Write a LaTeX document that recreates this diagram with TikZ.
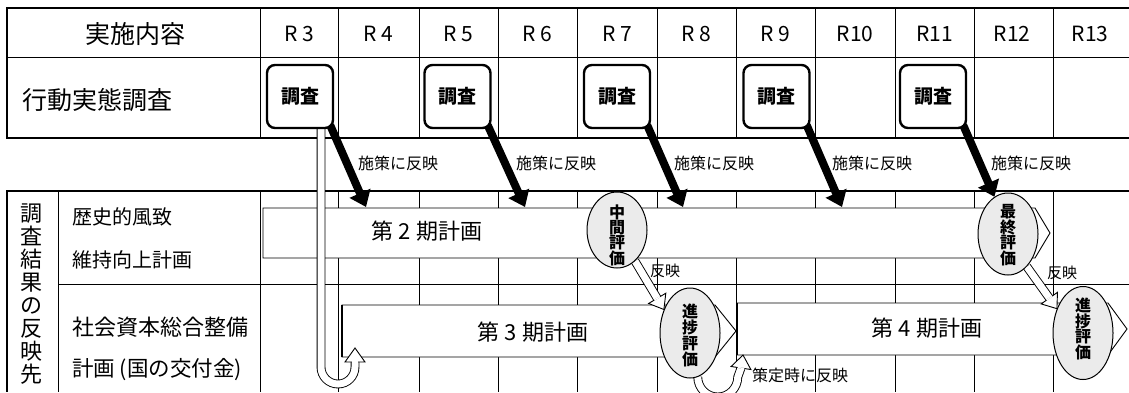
\documentclass[tikz,border=0pt]{standalone}
\usepackage{fontspec}
\setmainfont{Noto Sans CJK JP}
\usetikzlibrary{shapes.geometric,arrows.meta,calc}
\pgfdeclarelayer{bg}
\pgfsetlayers{bg,main}
\newcommand\fsz[1]{\fontsize{#1}{#1}\selectfont}
\newcommand\hollowhead[2]{%
  \draw[line width=0.9pt, fill=white] ($(#1)!10pt!90:(#2)$) -- (#2) -- ($(#1)!10pt!-90:(#2)$) -- cycle;
  \draw[white, line width=1.4pt] ($(#1)!3.4pt!90:(#2)$) -- ($(#1)!3.4pt!-90:(#2)$);
}
\begin{document}
\begin{tikzpicture}[x=1pt,y=-1pt,
  thickln/.style={line width=2.5pt},
  thinln/.style={line width=0.9pt},
  survey/.style={draw, line width=2.4pt, rounded corners=8pt, minimum width=66pt, minimum height=63pt, fill=white, font=\fsz{19}\bfseries, inner sep=0pt},
  evalnode/.style={ellipse, draw, line width=1pt, fill=black!8, minimum width=60pt, inner sep=-14pt, align=center},
  evaltxt/.style={align=center, inner sep=0pt, font=\fontsize{16}{15}\selectfont\bfseries},
  bigarrow/.style={line width=8pt, -{Triangle[length=15pt,width=22pt]}},
  hollow/.style={line width=0.9pt, double=white, double distance=7pt},
  plain/.style={inner sep=0pt},
  rlab/.style={plain, font=\fsz{21}},
  reflab/.style={plain, font=\fsz{16}},
  planlab/.style={plain, font=\fsz{22}},
  rowlab/.style={plain, anchor=west},
]
\useasboundingbox (0,0) rectangle (1129,392);
\clip (0,0) rectangle (1129,392);

% ---------- nodes (main layer)
\node[plain, font=\fsz{25}] (hdr) at (135,34) {実施内容};
\foreach \n/\x in {R 3/299, R 4/378.5, R 5/458.5, R 6/537.5, R 7/617, R 8/696.5, R 9/775.5, R10/855, R11/934.5, R12/1012, R13/1090}
  \node[rlab] (c\x) at (\x,34) {\n};
\node[rowlab, font=\fsz{25}] (row1) at (22,100) {行動実態調査};
\node[rowlab, font=\fsz{20}] (row2a) at (72,217) {歴史的風致};
\node[rowlab, font=\fsz{20}] (row2b) at (72,260) {維持向上計画};
\node[rowlab, font=\fsz{22}] (row3a) at (72,327) {社会資本総合整備};
\node[rowlab, font=\fsz{21.5}] (row3b) at (72,370) {計画 (国の交付金)};
\node[plain, align=center, font=\fontsize{22}{23}\selectfont] (side) at (31,294) {調\\査\\結\\果\\の\\反\\映\\先};

\node[survey] (s3) at (300,96.5) {調査};
\node[survey] (s5) at (457.5,96.5) {調査};
\node[survey] (s7) at (617,96.5) {調査};
\node[survey] (s9) at (776.5,96.5) {調査};
\node[survey] (s11) at (933,96.5) {調査};

\node[reflab] (f1) at (398,163) {施策に反映};
\node[reflab] (f2) at (556,163) {施策に反映};
\node[reflab] (f3) at (714,163) {施策に反映};
\node[reflab] (f4) at (872,163) {施策に反映};
\node[reflab] (f5) at (1031,163) {施策に反映};

\node[planlab] (p2) at (427,231) {第 2 期計画};
\node[planlab] (p3) at (533,332) {第 3 期計画};
\node[planlab] (p4) at (927,328) {第 4 期計画};

\node[evalnode, minimum height=76pt] (e1) at (617,230) {};
\node[evaltxt] (e1t) at (617,235) {中\\間\\評\\価};
\node[evalnode, minimum height=82pt] (e5) at (1008,234) {};
\node[evaltxt] (e5t) at (1008,235) {最\\終\\評\\価};
\node[evalnode, minimum height=90pt] (e3) at (690,333) {};
\node[evaltxt, font=\fontsize{16}{16}\selectfont\bfseries] (e3t) at (690,335) {進\\捗\\評\\価};
\node[evalnode, minimum height=93pt] (e4) at (1083,333) {};
\node[evaltxt] (e4t) at (1083,329) {進\\捗\\評\\価};

\node[plain, font=\fsz{15}] (r1) at (665,271) {反映};
\node[plain, font=\fsz{15}] (r2) at (1062,273) {反映};
\node[reflab] (sakutei) at (800,375) {策定時に反映};

% ---------- background layer
\begin{pgfonlayer}{bg}
\fill[white] (0,0) rectangle (1129,392);
% top table
\foreach \x in {260,338,419,498,577,657,736,815,895,974,1053}
  \draw[thinln] (\x,8) -- (\x,138);
\draw[thinln] (7,57) -- (1129,57);
\draw[thickln] (1129,8) -- (7,8) -- (7,138) -- (1129,138);
% lower table
\foreach \x in {58,260,338,419,498,577,657,736,815,895,974,1053}
  \draw[thinln] (\x,191) -- (\x,392);
\draw[thinln] (58,284) -- (1129,284);
\draw[thickln] (1129,191) -- (7,191) -- (7,392);

% plan bars
\draw[thinln, fill=white] (263,208) -- (1035,208) -- (1050,233) -- (1035,258) -- (263,258) -- cycle;
\draw[thinln, fill=white] (342,305) -- (715,305) -- (736,331) -- (715,357) -- (342,357) -- cycle;
\draw[line width=2.5pt] (342,305) -- (342,357);
\draw[thinln, fill=white] (737,303) -- (1108,303) -- (1127,329) -- (1108,355) -- (737,355) -- cycle;
\draw[line width=2.5pt] (737,303) -- (737,355);

\coordinate (t1) at (366,207);
\coordinate (t2) at (525,207);
\coordinate (t3) at (683,207);
\coordinate (t4) at (842,207);

% U-turn hollow arrow from first survey to plan 3
\coordinate (u1b) at (355,362);
\coordinate (u1t) at (355,348);
\draw[hollow] ($(s3.south)+(21,-2)$) -- (321,367) arc[start angle=180, end angle=360, radius=17pt] -- (u1b);
\hollowhead{u1b}{u1t}

% big black arrows
\draw[bigarrow] ($(s3.south east)+(-4,-4)$) -- (t1);
\draw[bigarrow] ($(s5.south east)+(-4,-4)$) -- (t2);
\draw[bigarrow] ($(s7.south east)+(-4,-4)$) -- (t3);
\draw[bigarrow] ($(s9.south east)+(-4,-4)$) -- (t4);
\draw[bigarrow] ($(s11.south east)+(-4,-4)$) -- (e5.110);

% reflect arrows
\path ($(e3.138)!13pt!(e1.-60)$) coordinate (h1b);
\draw[hollow] (e1.-60) -- (h1b);
\hollowhead{h1b}{e3.138}
\path ($(e4.137)!13pt!(e5.-60)$) coordinate (h2b);
\draw[hollow] (e5.-60) -- (h2b);
\hollowhead{h2b}{e4.137}

% U arrow from progress evaluation to plan 4
\coordinate (u2b) at (741,368);
\coordinate (u2t) at (743,355);
\draw[hollow] (e3.-80) arc[start angle=180, end angle=360, radius=20pt] -- (u2b);
\hollowhead{u2b}{u2t}
\end{pgfonlayer}
\end{tikzpicture}
\end{document}
